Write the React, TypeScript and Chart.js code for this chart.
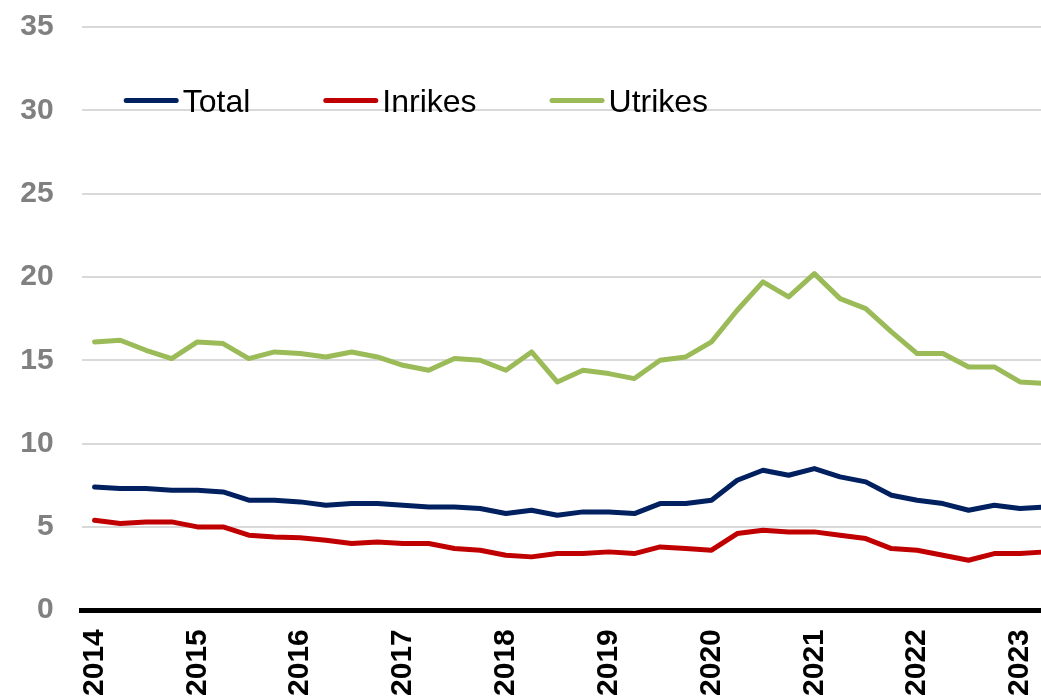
import { useEffect, useRef } from "react";
import { Chart, registerables } from "chart.js";

Chart.register(...registerables);

const years = [2014, 2015, 2016, 2017, 2018, 2019, 2020, 2021, 2022, 2023];
const quarters = ["K1", "K2", "K3", "K4"];
const categories = years.flatMap((y) => quarters.map((q) => `${y}${q}`)).slice(0, 38);

const total = [
  7.4, 7.3, 7.3, 7.2, 7.2, 7.1, 6.6, 6.6, 6.5, 6.3, 6.4, 6.4, 6.3, 6.2, 6.2, 6.1, 5.8, 6.0, 5.7,
  5.9, 5.9, 5.8, 6.4, 6.4, 6.6, 7.8, 8.4, 8.1, 8.5, 8.0, 7.7, 6.9, 6.6, 6.4, 6.0, 6.3, 6.1, 6.2,
];
const inrikes = [
  5.4, 5.2, 5.3, 5.3, 5.0, 5.0, 4.5, 4.4, 4.35, 4.2, 4.0, 4.1, 4.0, 4.0, 3.7, 3.6, 3.3, 3.2, 3.4,
  3.4, 3.5, 3.4, 3.8, 3.7, 3.6, 4.6, 4.8, 4.7, 4.7, 4.5, 4.3, 3.7, 3.6, 3.3, 3.0, 3.4, 3.4, 3.5,
];
const utrikes = [
  16.1, 16.2, 15.6, 15.1, 16.1, 16.0, 15.1, 15.5, 15.4, 15.2, 15.5, 15.2, 14.7, 14.4, 15.1, 15.0,
  14.4, 15.5, 13.7, 14.4, 14.2, 13.9, 15.0, 15.2, 16.1, 18.0, 19.7, 18.8, 20.2, 18.7, 18.1, 16.7,
  15.4, 15.4, 14.6, 14.6, 13.7, 13.6,
];

const seriesNames = ["Total", "Inrikes", "Utrikes"];
const seriesColors = ["#002060", "#C00000", "#9BBB59"];

const FONT = '"Liberation Sans", Arial, Helvetica, sans-serif';

const insideLegend = {
  id: "insideLegend",
  afterDraw(chart: any) {
    const ctx = chart.ctx;
    const area = chart.chartArea;
    ctx.save();
    ctx.font = `32px ${FONT}`;
    let x = area.left + 42;
    const y = area.top + 73.5;
    chart.data.datasets.forEach((ds: any) => {
      ctx.strokeStyle = ds.borderColor;
      ctx.lineWidth = 5;
      ctx.lineCap = "round";
      ctx.beginPath();
      ctx.moveTo(x + 2.5, y);
      ctx.lineTo(x + 52.5, y);
      ctx.stroke();
      ctx.fillStyle = "#000";
      ctx.textBaseline = "alphabetic";
      ctx.textAlign = "left";
      ctx.fillText(ds.label, x + 59, y + 11);
      x += 59 + ctx.measureText(ds.label).width + 73;
    });
    ctx.restore();
  },
};

export default function App() {
  const canvasRef = useRef<HTMLCanvasElement | null>(null);

  useEffect(() => {
    document.body.style.margin = "0";
    document.body.style.overflow = "hidden";
    document.documentElement.style.overflow = "hidden";
    const canvas = canvasRef.current;
    if (!canvas) return;
    const values = [total, inrikes, utrikes];
    const chart = new Chart(canvas, {
      type: "line",
      data: {
        labels: categories,
        datasets: values.map((v, i) => ({
          label: seriesNames[i],
          data: v,
          borderColor: seriesColors[i],
          backgroundColor: seriesColors[i],
          borderWidth: 5,
          pointRadius: 0,
          pointHoverRadius: 0,
          tension: 0,
          borderJoinStyle: "round" as const,
          borderCapStyle: "round" as const,
          fill: false,
        })),
      },
      options: {
        responsive: false,
        animation: false,
        layout: { padding: { top: 7, left: 0, right: 0, bottom: 0 } },
        plugins: {
          legend: { display: false },
          tooltip: { enabled: false },
        },
        scales: {
          x: {
            type: "category",
            offset: true,
            grid: { display: false, drawTicks: false },
            border: { display: true, color: "#000", width: 5 },
            ticks: {
              autoSkip: false,
              maxRotation: 90,
              minRotation: 90,
              padding: 19,
              color: "#000",
              font: { family: FONT, size: 30, weight: "bold" },
              callback: (_v: any, idx: number) =>
                idx % 4 === 0 ? categories[idx].slice(0, 4) : null,
            },
            afterFit: (s: any) => {
              s.height = 110.8;
            },
          },
          y: {
            min: 0,
            max: 35,
            grid: { color: "#d9d9d9", lineWidth: 2, drawTicks: false },
            border: { display: false },
            ticks: {
              stepSize: 5,
              padding: 28,
              color: "#808080",
              font: { family: FONT, size: 30, weight: "bold" },
            },
            afterFit: (s: any) => {
              s.width = 81.7;
            },
          },
        },
      },
      plugins: [insideLegend],
    });
    return () => chart.destroy();
  }, []);

  return (
    <div style={{ position: "fixed", left: 0, top: -19.5, width: 1075, height: 740 }}>
      <canvas ref={canvasRef} width={1075} height={740} style={{ width: 1075, height: 740, display: "block" }} />
    </div>
  );
}
